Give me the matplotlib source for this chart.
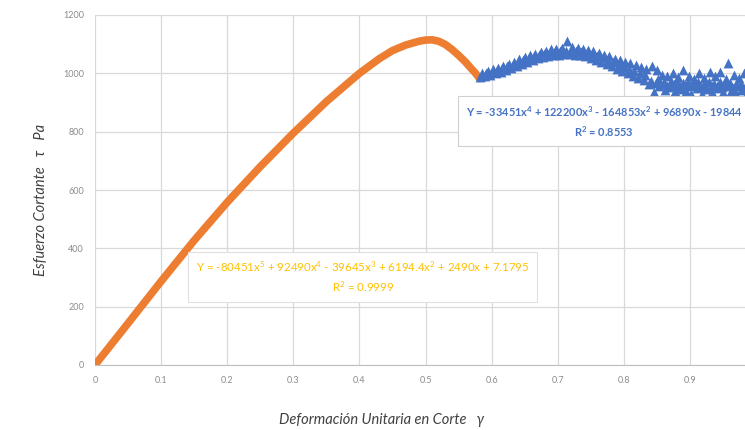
import matplotlib.pyplot as plt

# orange curve
ora_x = [0, 0.05, 0.10, 0.15, 0.20, 0.25, 0.30, 0.35, 0.40, 0.43, 0.45, 0.47,
         0.49, 0.50, 0.51, 0.52, 0.53, 0.54, 0.55, 0.56, 0.567, 0.575, 0.582]
ora_y = [0, 143, 287, 427, 558, 680, 795, 903, 1000, 1050, 1078, 1097,
         1110, 1114, 1115, 1110, 1099, 1082, 1062, 1040, 1022, 1002, 982]

# blue scatter
blue_x = [0.582, 0.586, 0.590, 0.594, 0.598, 0.602, 0.606, 0.610, 0.614, 0.618,
          0.622, 0.626, 0.630, 0.634, 0.638, 0.642, 0.646, 0.650, 0.654, 0.658,
          0.662, 0.666, 0.670, 0.674, 0.678, 0.682, 0.686, 0.690, 0.694, 0.698,
          0.702, 0.706, 0.710, 0.714, 0.718, 0.722, 0.726, 0.730, 0.734, 0.738,
          0.742, 0.746, 0.750, 0.754, 0.758, 0.762, 0.766, 0.770, 0.774, 0.778,
          0.782, 0.786, 0.790, 0.794, 0.798, 0.802, 0.806, 0.810, 0.814, 0.818,
          0.822, 0.826, 0.830, 0.834, 0.838, 0.842, 0.846, 0.850, 0.854, 0.858,
          0.862, 0.866, 0.870, 0.874, 0.878, 0.882, 0.886, 0.890, 0.894, 0.898,
          0.902, 0.906, 0.910, 0.914, 0.918, 0.922, 0.926, 0.930, 0.934, 0.938,
          0.942, 0.946, 0.950, 0.954, 0.958, 0.962, 0.966, 0.970, 0.974, 0.978,
          0.982, 0.986, 0.990, 0.994, 0.998,
          # middle of the band
          0.584, 0.592, 0.600, 0.608, 0.616, 0.624, 0.632, 0.640, 0.648, 0.656,
          0.664, 0.672, 0.680, 0.688, 0.696, 0.704, 0.712, 0.720, 0.728, 0.736,
          0.744, 0.752, 0.760, 0.768, 0.776, 0.784, 0.792, 0.800, 0.808, 0.816,
          0.824, 0.832, 0.841, 0.848, 0.852, 0.857, 0.861, 0.866, 0.871, 0.876,
          0.880, 0.885, 0.889, 0.893, 0.897, 0.901, 0.905, 0.909, 0.913, 0.917,
          0.921, 0.925, 0.929, 0.933, 0.937, 0.941, 0.945, 0.949, 0.953, 0.957,
          0.961, 0.965, 0.969, 0.973, 0.977, 0.981, 0.985, 0.989, 0.993, 0.997]
blue_y = [986, 1000, 990, 1008, 996, 1014, 1001, 1018, 1006, 1026,
          1012, 1032, 1018, 1040, 1026, 1048, 1032, 1055, 1040, 1062,
          1046, 1066, 1052, 1072, 1055, 1076, 1060, 1082, 1062, 1084,
          1064, 1088, 1066, 1112, 1066, 1090, 1064, 1086, 1062, 1084,
          1058, 1080, 1052, 1076, 1046, 1070, 1040, 1064, 1032, 1058,
          1024, 1050, 1016, 1046, 1008, 1040, 1000, 1034, 990, 1030,
          984, 1022, 978, 1016, 962, 1026, 935, 1010, 958, 996,
          944, 990, 952, 1000, 938, 986, 946, 1012, 940, 992,
          928, 982, 950, 1000, 930, 985, 945, 1004, 936, 990,
          950, 1006, 935, 980, 1034, 940, 996, 930, 984, 944,
          1000, 932, 978, 940, 960,
          992, 1000, 1006, 1012, 1018, 1024, 1030, 1038, 1045, 1052,
          1058, 1063, 1068, 1072, 1075, 1077, 1078, 1078, 1076, 1073,
          1069, 1064, 1058, 1052, 1045, 1038, 1030, 1022, 1015, 1008,
          1000, 994, 975, 968, 980, 962, 972, 958, 975, 962,
          970, 955, 968, 960, 972, 955, 968, 960, 970, 952,
          965, 958, 970, 955, 965, 958, 970, 952, 962, 955,
          966, 950, 962, 955, 965, 948, 960, 952, 962, 950]

xtick_vals = [0, 0.1, 0.2, 0.3, 0.4, 0.5, 0.6, 0.7, 0.8, 0.9]
xtick_text = ['0', '0.1', '0.2', '0.3', '0.4', '0.5', '0.6', '0.7', '0.8', '0.9']

blue_eq = "Y = -33451x$^4$ + 122200x$^3$ - 164853x$^2$ + 96890x - 19844\nR$^2$ = 0.8553"
ora_eq = "Y = -80451x$^5$ + 92490x$^4$ - 39645x$^3$ + 6194.4x$^2$ + 2490x + 7.1795\nR$^2$ = 0.9999"

plt.rcParams['font.family'] = ['Lato', 'DejaVu Sans']
plt.rcParams['mathtext.fontset'] = 'custom'
plt.rcParams['mathtext.rm'] = 'Lato'
plt.rcParams['mathtext.default'] = 'regular'

fig = plt.figure(figsize=(7.45, 4.30), dpi=100)
ax = fig.add_axes([95/745, 1-365/430, 661/745, 350/430])

ax.plot(ora_x, ora_y, color='#ED7D31', lw=5.5, solid_capstyle='round', zorder=3)
ax.scatter(blue_x, blue_y, marker='^', s=50, color='#4472C4', zorder=4, linewidths=0)

ax.set_xlim(0, 1)
ax.set_ylim(0, 1200)
ax.set_xticks(xtick_vals)
ax.set_xticklabels(xtick_text)
ax.set_yticks(range(0, 1201, 200))
ax.grid(True, color='#D9D9D9', lw=0.9)
ax.set_axisbelow(True)
for s in ['top', 'right', 'left']:
    ax.spines[s].set_visible(False)
ax.spines['bottom'].set_color('#BFBFBF')
ax.tick_params(length=0, labelsize=6.5, labelcolor='#8C8C8C', pad=8)

ax.set_xlabel('Deformación Unitaria en Corte   γ', fontsize=10.5, style='italic',
              color='#404040')
ax.set_ylabel('Esfuerzo Cortante   τ   Pa', fontsize=10.5, style='italic',
              color='#404040')
ax.xaxis.set_label_coords(0.433, -0.137)
ax.yaxis.set_label_coords(-0.071, 0.471)

ax.text(0.770, 835, blue_eq, fontsize=7.9, color='#4472C4', fontweight='bold',
        ha='center', va='center', linespacing=1.45, zorder=5,
        bbox=dict(boxstyle='square,pad=0.7', fc='white', ec='#D0D0D0', lw=0.8))
ax.text(0.405, 302, ora_eq, fontsize=8.3, color='#FFC000',
        ha='center', va='center', linespacing=1.45, zorder=5,
        bbox=dict(boxstyle='square,pad=0.65', fc='white', ec='#E0E0E0', lw=0.8))

plt.savefig('out.png', dpi=100)
